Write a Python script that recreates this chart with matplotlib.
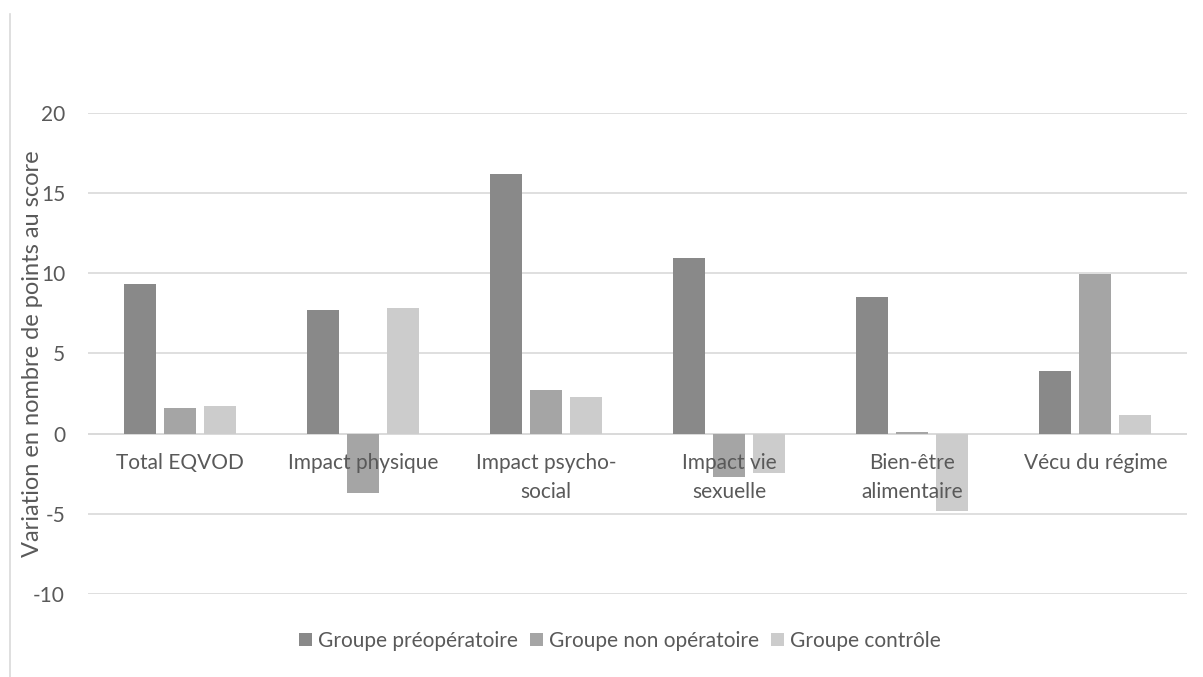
import matplotlib
matplotlib.use("Agg")
import matplotlib.pyplot as plt
import numpy as np
from matplotlib.lines import Line2D

categories = ["Total EQVOD", "Impact physique", "Impact psycho-\nsocial",
              "Impact vie\nsexuelle", "Bien-être\nalimentaire", "Vécu du régime"]
series_names = ["Groupe préopératoire", "Groupe non opératoire", "Groupe contrôle"]
preop = [9.34, 7.73, 16.18, 10.95, 8.5, 3.89]
nonop = [1.63, -3.69, 2.75, -2.7, 0.14, 9.97]
controle = [1.76, 7.85, 2.26, -2.47, -4.83, 1.14]
colors = ["#898989", "#a5a5a5", "#cccccc"]
yticks = [-10, -5, 0, 5, 10, 15, 20]

plt.rcParams['font.family'] = ['Lato', 'DejaVu Sans']
txt = "#595959"

fig = plt.figure(figsize=(12.03, 6.77), dpi=100)
ax = fig.add_axes([88/1203, 1-594.3/677, 1099/1203, (594.3-112.7)/677])

x = np.arange(len(categories))
w = 32/183.2
step = 40/183.2
for i, (vals, c, n) in enumerate(zip([preop, nonop, controle], colors, series_names)):
    ax.bar(x + (i-1)*step, vals, width=w, color=c, label=n, zorder=3)

ax.set_xlim(-0.5, len(categories)-0.5)
ax.set_ylim(-10, 20)
ax.set_yticks(yticks)
ax.set_yticklabels([str(t) for t in yticks], color=txt, fontsize=15)
ax.yaxis.grid(True, color="#d9d9d9", linewidth=1.2, zorder=0)
ax.axhline(0, color="#d9d9d9", linewidth=1.2, zorder=2)
ax.tick_params(axis='y', length=0, pad=16.5)
ax.tick_params(axis='x', length=0)
ax.set_xticks(x)
ax.set_xticklabels([])
for xi, lab in zip(x, categories):
    ax.text(xi, -1.2, lab, ha='center', va='top', fontsize=15, color=txt,
            linespacing=1.55, zorder=4)
for s in ax.spines.values():
    s.set_visible(False)
ax.set_ylabel("Variation en nombre de points au score", color=txt, fontsize=17)
ax.yaxis.set_label_coords((43-88)/1099, 0.5)

leg = fig.legend(loc='center', bbox_to_anchor=(620/1203, 1-641/677), ncol=3, frameon=False,
                 fontsize=15, handlelength=0.6, handleheight=0.6, handletextpad=0.3,
                 columnspacing=0.6, labelcolor=txt)

fig.add_artist(Line2D([10/1203, 10/1203], [0, 1-14/677], color="#d9d9d9", linewidth=1.2,
                      transform=fig.transFigure))

fig.savefig("out.png", dpi=100, facecolor="white")
